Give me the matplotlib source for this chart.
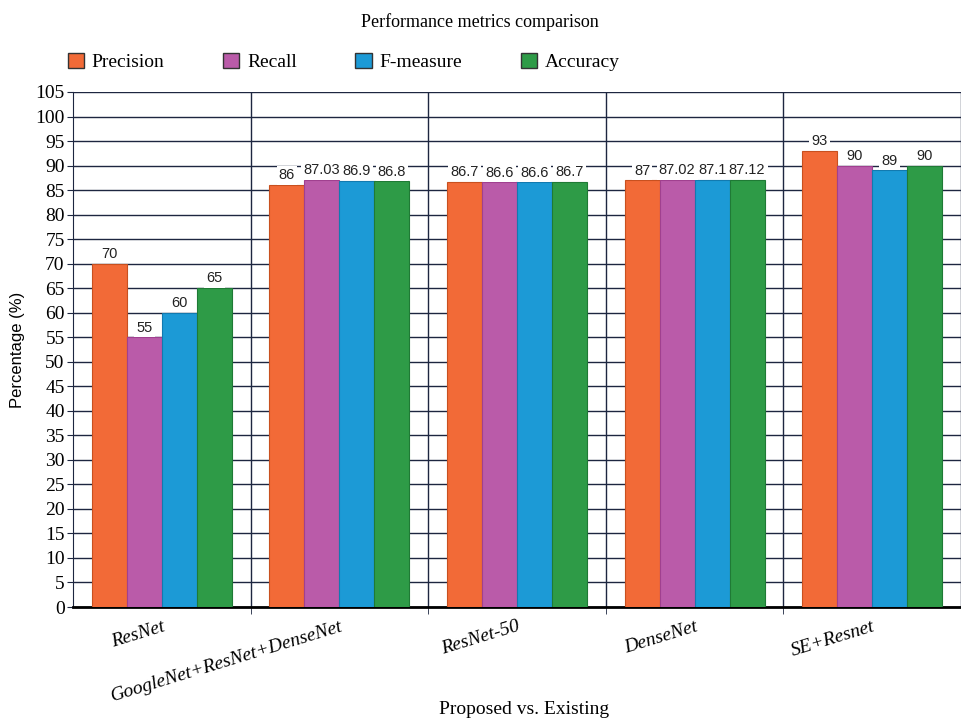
import numpy as np
import matplotlib.pyplot as plt
from matplotlib.patches import Patch

models = ["ResNet", "GoogleNet+ResNet+DenseNet", "ResNet-50", "DenseNet", "SE+Resnet"]
metrics = ["Precision", "Recall", "F-measure", "Accuracy"]
precision = [70, 86, 86.7, 87, 93]
recall = [55, 87.03, 86.6, 87.02, 90]
f_measure = [60, 86.9, 86.6, 87.1, 89]
accuracy = [65, 86.8, 86.7, 87.12, 90]

colors = ["#F26A37", "#BA5BA9", "#1C9AD6", "#2E9B47"]
edges = ["#C8501F", "#A0408F", "#127AB0", "#1F7A35"]

serif = "Liberation Serif"
sans = "Liberation Sans"

fig = plt.figure(figsize=(9.61, 7.27), dpi=100)
ax = fig.add_axes([73 / 961, 1 - 607 / 727, 1 - 73 / 961, (607 - 92) / 727])

x = np.arange(len(models))
bar_w = 0.197
series = [precision, recall, f_measure, accuracy]

# grid first, bars over it
ax.set_axisbelow(True)
ax.set_ylim(0, 105)
ax.set_xlim(-0.5, -0.5 + 888 / 180)
ax.set_yticks(np.arange(0, 106, 5))
ax.yaxis.grid(True, color="#1d2640", linewidth=1.0)
ax.set_xticks(x)
ax.set_xticks(np.arange(0.5, len(models), 1), minor=True)
ax.xaxis.grid(True, which="minor", color="#1d2640", linewidth=1.0)
ax.xaxis.grid(False, which="major")

for i, vals in enumerate(series):
    pos = x + (i - 1.5) * bar_w
    ax.bar(pos, vals, width=bar_w, color=colors[i], edgecolor=edges[i],
           linewidth=0.8, zorder=3)
    for p, v in zip(pos, vals):
        ax.annotate(f"{v:g}", (p, v), xytext=(0, 7), textcoords="offset points",
                    ha="center", va="center", fontsize=10.5, family=sans,
                    color="#222222", zorder=4,
                    bbox=dict(boxstyle="square,pad=0.15", fc="white", ec="none"))

ax.spines["top"].set_visible(False)
ax.spines["right"].set_visible(False)
ax.spines["left"].set_color("#1d2640")
ax.spines["bottom"].set_color("black")
ax.spines["bottom"].set_linewidth(2)

ax.tick_params(axis="y", length=4, color="#1d2640", pad=2)
ax.tick_params(axis="x", which="major", length=0, pad=8)
ax.tick_params(axis="x", which="minor", length=5, color="#1d2640")

for lab in ax.get_yticklabels():
    lab.set_fontsize(14)
    lab.set_family(serif)

ax.set_xticklabels(models, rotation=17, ha="right", rotation_mode="anchor",
                   fontsize=14, family=serif, style="italic")

fig.text(480 / 961, 1 - 22 / 727, "Performance metrics comparison",
         ha="center", va="center", fontsize=13, family=serif)
fig.text(524 / 961, 1 - 710 / 727, "Proposed vs. Existing",
         ha="center", va="center", fontsize=14, family=serif)
fig.text(18 / 961, 1 - 350 / 727, "Percentage (%)", rotation=90,
         ha="center", va="center", fontsize=12, family=sans)

handles = [Patch(facecolor=c, edgecolor="#333333", linewidth=1) for c in colors]
fig.legend(handles, metrics, loc="center left",
           bbox_to_anchor=(50 / 961, 1 - 62 / 727), ncol=4, frameon=False,
           prop={"family": serif, "size": 14}, handlelength=0.85,
           handleheight=0.85, handletextpad=0.4, columnspacing=3.0)

fig.savefig("out.png", dpi=100)
